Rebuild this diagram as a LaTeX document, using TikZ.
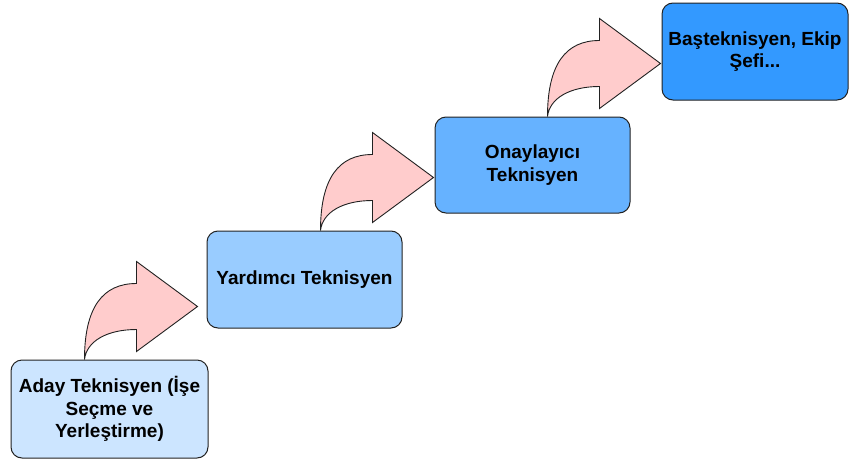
\documentclass[tikz,border=0pt]{standalone}
\usepackage{fontspec}
\setmainfont{Liberation Sans}
\definecolor{c1}{HTML}{CCE5FF}
\definecolor{c2}{HTML}{99CCFF}
\definecolor{c3}{HTML}{66B2FF}
\definecolor{c4}{HTML}{3399FF}
\definecolor{arrowfill}{HTML}{FFCCCC}
\definecolor{edge}{HTML}{222222}
\tikzset{
  stagebox/.style={draw=edge, line width=1pt, rounded corners=11pt, align=center,
    inner sep=0pt, font=\bfseries\fontsize{19}{22.5}\selectfont, text=black},
  arrowst/.style={draw=edge, line width=0.9pt, fill=arrowfill, line join=miter},
  jumparrow/.pic={\path[arrowst] (0,0) .. controls (0,-52) and (18,-76) .. (52,-76)
     -- (52,-98) -- (113,-53) -- (52,-8) -- (52,-30)
     .. controls (22,-30) and (2,-18) .. (0,0) -- cycle;}
}
\begin{document}
\begin{tikzpicture}[x=1pt,y=-1pt]
\useasboundingbox (0,0) rectangle (850,463);
\node[stagebox, fill=c1, minimum width=197pt, minimum height=98pt] (b1) at (109.5,409) {Aday Teknisyen (İşe\\Seçme ve\\Yerleştirme)};
\node[stagebox, fill=c2, minimum width=195pt, minimum height=97pt] (b2) at (304.5,279.5) {Yardımcı Teknisyen};
\node[stagebox, fill=c3, minimum width=195pt, minimum height=96pt] (b3) at (532.5,165) {Onaylayıcı\\Teknisyen};
\node[stagebox, fill=c4, minimum width=186pt, minimum height=97pt] (b4) at (755,51.5) {Başteknisyen, Ekip\\Şefi...};
\pic at ([xshift=74pt]b1.north west) {jumparrow};
\pic at ([xshift=114pt]b2.north west) {jumparrow};
\pic at ([xshift=113pt]b3.north west) {jumparrow};
\end{tikzpicture}
\end{document}
